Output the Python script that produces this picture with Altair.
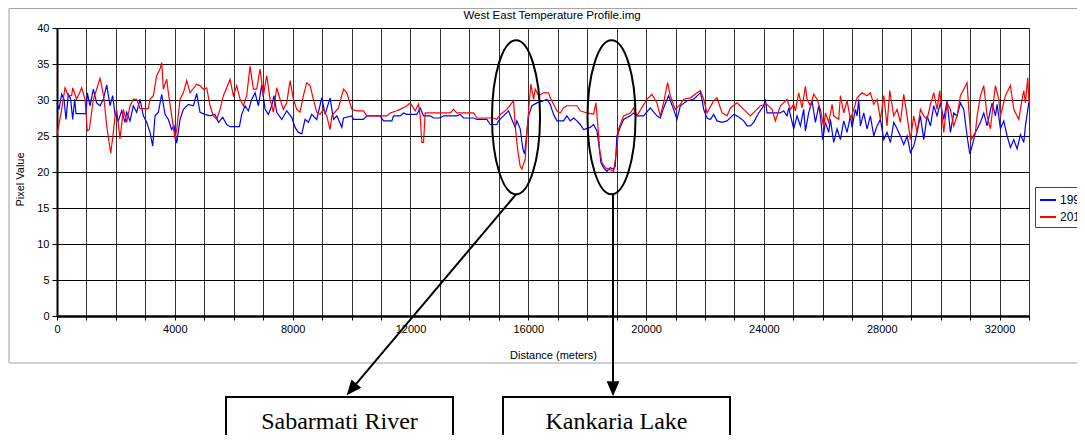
import altair as alt
import pandas as pd

# ---- 1995 profile (distance in metres, pixel value) ----
d95 = [0,68,158,238,306,385,464,532,600,645,985,1030,1121,1234,1347,1460,1573,1687,1800,1890,
       1970,2083,2196,2309,2366,2479,2592,2705,2819,2932,3045,3158,3249,3328,3441,3554,3668,3781,3894,3973,
       4064,4177,4290,4460,4630,4743,4856,5026,5196,5366,5479,5626,5762,5875,6192,6271,6384,6498,6611,6724,
       6837,6950,7064,7177,7290,7369,7460,7630,7799,7969,8082,8196,8309,8422,8535,8648,8818,8988,9101,9271,
       9387,9500,9670,9727,10010,10066,10406,10519,10972,11085,11368,11425,11651,11764,11878,12217,12330,12444,12670,12783,
       13010,13123,13576,13689,13802,14142,14255,14594,14708,14934,14991,15160,15330,15443,15557,15613,15726,15817,15874,15953,
       16009,16123,16292,16519,16632,16745,16858,16972,17198,17311,17424,17538,17651,17764,17877,18104,18217,18330,18387,18466,
       18556,18670,18783,18896,18953,19009,19122,19236,19462,19575,19688,19915,20141,20368,20481,20594,20764,20934,21047,
       21163,21389,21616,21842,21899,21955,22069,22182,22295,22408,22578,22748,22974,23087,23314,23427,23540,23653,23823,23993,
       24050,24106,24559,24672,24785,24842,25012,25125,25238,25351,25408,25521,25634,25748,25861,25917,25997,26087,26200,26257,
       26370,26483,26597,26710,26823,26936,26993,27106,27163,27219,27276,27389,27502,27615,27729,27842,27955,28068,28181,28295,
       28408,28521,28634,28747,28861,28974,29087,29200,29313,29427,29540,29653,29766,29879,29993,30106,30219,30332,30445,30559,
       30672,30785,30898,30989,31068,31181,31351,31464,31577,31747,31860,31917,32030,32143,32257,32370,32483,32596,32709,32823,
       32879,32992]
v95 = [29.6,28.7,30.8,30.1,27.3,30.8,30.1,27.3,30.1,28.1,28.1,31.0,29.2,31.5,29.6,29.2,30.1,32.1,29.2,30.6,
       28.0,27.1,28.5,26.9,28.3,27.1,29.2,28.3,30.1,27.8,26.9,25.5,23.6,27.8,28.3,30.8,28.0,27.3,25.9,26.4,
       24.0,27.3,28.7,29.4,29.2,30.9,28.3,28.0,27.8,28.0,26.9,27.6,26.6,26.3,26.3,28.0,29.2,28.5,30.1,31.0,
       29.2,32.1,28.7,28.0,29.2,30.6,28.3,27.3,28.5,27.6,26.2,25.5,25.3,27.3,26.9,28.0,27.3,30.3,28.0,30.3,
       27.3,27.8,26.2,27.5,27.8,27.3,27.3,27.8,27.8,27.1,27.1,27.8,27.8,28.2,28.0,28.0,28.9,27.8,27.8,27.5,
       27.5,27.8,27.8,28.0,27.5,27.5,27.3,27.3,26.6,26.6,27.1,27.8,28.5,27.3,26.2,27.1,26.0,23.2,22.5,25.5,
       27.8,29.2,29.6,29.9,30.1,29.4,28.0,27.1,27.1,27.8,27.1,27.5,27.1,26.6,25.9,26.2,26.6,25.7,24.1,21.3,
       20.6,20.1,20.6,20.4,20.8,25.0,26.2,27.3,27.8,28.2,27.8,27.8,28.9,27.8,27.5,28.9,30.6,28.7,27.3,
       29.2,29.9,30.1,31.0,30.1,28.7,27.5,27.3,28.0,27.1,26.9,27.1,28.0,27.8,27.1,26.4,26.4,26.9,28.2,29.2,
       30.1,28.2,28.2,28.5,27.8,28.9,26.0,27.8,26.4,28.7,25.7,28.2,29.9,26.9,29.2,27.8,24.5,26.9,25.5,27.3,
       24.1,26.0,24.5,27.1,25.5,27.8,26.2,28.7,27.8,30.1,26.4,28.2,26.0,27.8,25.0,26.4,27.3,24.5,25.5,24.1,
       26.9,26.0,25.0,23.8,25.0,22.7,23.6,25.5,27.8,24.5,27.8,26.4,29.2,27.8,29.6,27.3,29.9,25.5,28.2,27.8,
       29.6,28.7,25.0,22.5,23.6,25.5,26.9,28.2,26.4,29.6,27.8,29.4,26.0,27.1,25.0,23.4,24.5,23.2,25.2,24.1,
       26.4,29.6]

# ---- 2011 profile ----
d11 = [0,158,272,385,498,532,668,838,951,1030,1098,1234,1347,1460,1517,1596,1687,1823,1913,1970,
       2026,2139,2253,2366,2479,2592,2705,2819,3102,3158,3271,3385,3498,3554,3611,3724,3781,3894,4007,4064,
       4177,4290,4404,4517,4743,4856,4970,5083,5196,5309,5422,5535,5649,5762,5875,5988,6101,6215,6328,6441,
       6554,6667,6781,6894,7007,7120,7233,7347,7460,7573,7686,7799,7913,8026,8139,8252,8365,8479,8592,8705,
       8818,8931,9045,9158,9271,
       9331,9557,9727,9840,10010,10180,10406,10519,11198,11312,11538,11651,11878,11991,12161,12274,12330,12387,12444,12500,
       13349,13462,13576,14142,14255,14821,14934,15047,15274,15500,15557,15636,15726,15783,15896,15953,16043,16089,16180,16236,
       16349,16519,16689,16745,16972,17085,17198,17311,17651,17764,17990,18217,18296,18364,18421,18500,18613,18726,18896,19009,
       19066,19236,19462,19575,19688,20028,20198,20368,20481,20594,20730,20821,20991,21160,
       21276,21503,21729,21842,21955,22069,22295,22408,22578,22748,22861,23087,23314,23540,23710,23880,24106,24276,24389,24559,
       24785,24898,25012,25068,25182,25295,25408,25465,25578,25691,25804,25917,26031,26087,26200,26314,26370,26540,26597,26710,
       26823,26936,27049,27163,27332,27502,27615,27729,27842,27955,28068,28181,28272,28408,28521,28634,28747,28861,28974,29087,
       29200,29313,29427,29540,29653,29766,29879,29970,30049,30106,30219,30332,30445,30559,30672,30785,30898,30955,31034,31181,
       31238,31351,31464,31577,31690,31804,31860,31974,32030,32200,32370,32483,32653,32766,32823,32879,32958,33000]
v11 = [25.1,28.7,31.7,30.6,30.6,31.7,30.1,31.7,30.1,25.7,25.9,30.1,31.5,33.0,32.0,30.1,26.4,22.6,25.5,27.8,
       28.7,24.6,28.7,26.9,29.2,30.1,30.1,28.8,28.8,30.1,30.6,33.4,34.3,35.2,31.5,32.9,31.0,27.8,24.6,25.9,
       30.1,31.0,32.7,31.0,32.2,32.0,31.5,31.7,29.2,27.8,27.3,28.7,30.6,31.7,32.9,30.6,32.0,30.1,29.2,30.6,
       34.7,31.5,31.5,34.3,30.6,33.4,30.1,28.3,31.7,30.1,28.7,29.6,32.7,30.1,28.7,28.3,30.6,32.4,32.0,30.1,
       28.3,28.0,28.7,27.8,25.9,
       27.8,28.9,31.5,31.0,28.7,28.5,28.5,27.8,27.8,28.2,28.5,28.7,29.2,29.6,28.5,29.4,27.8,24.1,24.1,28.2,
       28.2,28.7,28.2,28.2,27.5,27.5,27.3,28.0,28.7,29.9,26.4,23.2,20.8,20.4,21.8,25.5,30.1,32.2,30.1,31.5,
       30.6,31.0,31.0,30.3,28.5,28.2,28.9,29.2,29.2,28.5,28.2,28.0,29.6,26.4,23.2,21.3,20.6,20.4,20.1,23.2,
       26.0,27.8,28.2,28.9,27.8,30.1,30.8,29.6,27.8,29.6,32.4,30.6,28.7,29.4,
       30.1,30.3,31.0,31.3,30.1,28.2,29.9,30.3,28.2,27.8,28.9,29.6,28.7,27.8,28.5,29.2,29.4,28.7,27.1,29.2,
       30.1,28.7,29.4,28.5,31.0,28.9,31.9,30.1,29.2,30.8,30.1,28.7,26.2,28.2,26.9,29.4,27.8,27.3,30.6,28.2,
       29.9,27.3,28.7,30.3,31.0,30.6,31.0,29.4,30.1,27.3,30.6,26.4,31.3,27.8,28.7,26.9,30.8,27.8,24.5,27.8,
       25.5,28.7,27.8,27.3,29.4,31.0,28.7,31.3,27.8,25.5,29.6,28.7,26.4,27.8,30.6,31.5,32.4,28.7,24.5,25.5,
       27.8,30.6,32.0,27.8,26.0,30.1,32.0,30.1,27.8,30.6,32.0,28.7,27.3,30.1,31.3,29.6,33.1,29.6]

series_names = ["1995", "2011"]
series_colors = ["#0000ff", "#ff0000"]
x_ticks = list(range(0, 33001, 1000))
y_ticks = [0, 5, 10, 15, 20, 25, 30, 35, 40]
chart_title = ["West East Temperature Profile.img"]

# ---- annotation anchors (data coordinates) ----
ellipse_dist = [15584, 18826]
ellipse_val = [27.6, 27.6]
arrow_id = ["river", "river", "lake", "lake"]
arrow_dist = [15584, 9999, 18877, 18877]
arrow_val = [16.9, -10.2, 16.9, -10.1]
box_labels = ["Sabarmati River", "Kankaria Lake"]
box_left = [5738, 15142]
box_right = [13445, 22849]
box_center = [9591, 18995]

profile = pd.concat([
    pd.DataFrame({"dist": d95, "val": v95, "year": "1995"}),
    pd.DataFrame({"dist": d11, "val": v11, "year": "2011"}),
])

xs = alt.Scale(domain=[0, 33000], nice=False, zero=False)
ys = alt.Scale(domain=[0, 40], nice=False, zero=False)
FONT = "Liberation Sans"

x_axis = alt.Axis(values=x_ticks, format="d",
                  labelExpr="datum.value % 4000 == 0 ? datum.label : ''",
                  labelFlush=False, labelOverlap=False, labelFont=FONT, labelFontSize=11,
                  labelColor="#000", labelPadding=3, tickSize=4, tickColor="#000",
                  domainColor="#000", domainWidth=2.5, gridColor="#333", gridWidth=1,
                  title="Distance (meters)", titleFont=FONT, titleFontSize=11,
                  titleFontWeight="normal", titleColor="#000", titleX=496, titleY=42,
                  titleBaseline="alphabetic", titleAlign="center")
y_axis = alt.Axis(values=y_ticks, tickCount=9, labelOverlap=False, labelFlush=False,
                  labelFont=FONT, labelFontSize=11, labelColor="#000",
                  labelPadding=3, tickSize=5, tickColor="#000", domainColor="#000",
                  domainWidth=2, gridColor="#000", gridWidth=1,
                  title="Pixel Value", titleFont=FONT, titleFontSize=11,
                  titleFontWeight="normal", titleColor="#000", titleX=-32, titleY=151,
                  titleAngle=270, titleBaseline="bottom", titleAlign="center")


def X(field):
    return alt.X(field, type="quantitative", scale=xs, axis=x_axis)


def Y(field):
    return alt.Y(field, type="quantitative", scale=ys, axis=y_axis)


lines = alt.Chart(profile).mark_line(strokeWidth=1.2).encode(
    x=X("dist"),
    y=Y("val"),
    color=alt.Color("year:N",
                    scale=alt.Scale(domain=series_names, range=series_colors),
                    legend=alt.Legend(title=None, orient="none", legendX=978, legendY=159,
                                      symbolType="stroke", symbolSize=256, symbolStrokeWidth=2,
                                      labelFont=FONT, labelFontSize=12, labelColor="#000",
                                      labelOffset=3, padding=4, rowPadding=2,
                                      strokeColor="#444", fillColor="#ffffff")),
)

frame = alt.Chart(pd.DataFrame({"dist": [-1630], "dist2": [36000], "val": [42.7], "val2": [-6.53]})).mark_rect(
    fill="#ffffff", fillOpacity=0, stroke="#a0a0a0", strokeWidth=1).encode(
    x=X("dist"), x2="dist2:Q", y=Y("val"), y2="val2:Q")

title = alt.Chart(pd.DataFrame({"dist": [16806], "val": [41.3], "label": chart_title})).mark_text(
    font=FONT, fontSize=11.5, color="#000", align="center", baseline="alphabetic").encode(
    x=X("dist"), y=Y("val"), text="label:N")

shadow = alt.Chart(pd.DataFrame({"dist": [33350], "dist2": [36000], "val": [12.9], "val2": [12.35]})).mark_rect(
    fill="#000000").encode(
    x=X("dist"), x2="dist2:Q", y=Y("val"), y2="val2:Q")

a = 0.3117
k = 0.5523
ellipse_path = (f"M 0 -1 C {a*k:.4f} -1 {a} -{k} {a} 0 C {a} {k} {a*k:.4f} 1 0 1 "
                f"C -{a*k:.4f} 1 -{a} {k} -{a} 0 C -{a} -{k} -{a*k:.4f} -1 0 -1 Z")
ellipses = alt.Chart(pd.DataFrame({"dist": ellipse_dist, "val": ellipse_val})).mark_point(
    shape=ellipse_path, size=23716, filled=False, stroke="#000", strokeWidth=2, opacity=1).encode(
    x=X("dist"), y=Y("val"))

shafts = alt.Chart(pd.DataFrame({"dist": arrow_dist, "val": arrow_val, "arrow": arrow_id})).mark_line(
    color="#000", strokeWidth=2).encode(
    x=X("dist"), y=Y("val"), detail="arrow:N")

head_path = "M 0 -1 L 0.85 1 L -0.85 1 Z"
head_river = alt.Chart(pd.DataFrame({"dist": [arrow_dist[1]], "val": [arrow_val[1]]})).mark_point(
    shape=head_path, size=225, filled=True, fill="#000", opacity=1, angle=220).encode(
    x=X("dist"), y=Y("val"))
head_lake = alt.Chart(pd.DataFrame({"dist": [arrow_dist[3]], "val": [arrow_val[3]]})).mark_point(
    shape=head_path, size=225, filled=True, fill="#000", opacity=1, angle=180).encode(
    x=X("dist"), y=Y("val"))

boxes_df = pd.DataFrame({"dist": box_left, "dist2": box_right, "val": [-11.25, -11.25],
                         "val2": [-25, -25], "center": box_center, "label": box_labels,
                         "tv": [-15.69, -15.69]})
boxes = alt.Chart(boxes_df).mark_rect(fill="#ffffff", stroke="#000", strokeWidth=2).encode(
    x=X("dist"), x2="dist2:Q", y=Y("val"), y2="val2:Q")
labels = alt.Chart(boxes_df).mark_text(font="Liberation Serif", fontSize=24, color="#000",
                                       align="center", baseline="alphabetic").encode(
    x=X("center"), y=Y("tv"), text="label:N")

chart = alt.layer(frame, title, shadow, lines, ellipses, shafts, head_river, head_lake, boxes, labels).properties(
    width=972, height=288,
    autosize=alt.AutoSizeParams(type="none"),
    padding={"left": 49, "top": 20, "right": 48, "bottom": 119},
    background="#ffffff",
).configure_view(strokeWidth=0)

chart.save("out.html", embed_options={"renderer": "svg", "actions": False})
